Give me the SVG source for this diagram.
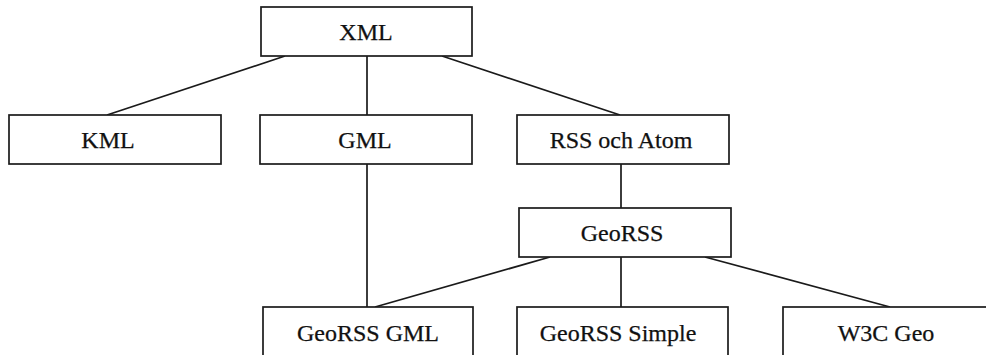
<svg xmlns="http://www.w3.org/2000/svg" width="986" height="355" viewBox="0 0 986 355">
  <style>
    .box { fill: #ffffff; stroke: #1a1a1a; stroke-width: 1.7; }
    .lbl { font-family: "Liberation Serif", "Times New Roman", serif; font-size: 24px; fill: #111111; stroke: #111111; stroke-width: 0.25; text-anchor: middle; }
    .link { stroke: #1a1a1a; stroke-width: 1.7; fill: none; }
  </style>
  <rect width="986" height="355" fill="#ffffff"/>

  <g id="connectors">
    <line class="link" x1="285" y1="56" x2="107" y2="115"/>
    <line class="link" x1="367" y1="56" x2="367" y2="115"/>
    <line class="link" x1="442" y1="56" x2="620" y2="115"/>
    <line class="link" x1="367" y1="164" x2="367" y2="307"/>
    <line class="link" x1="621" y1="164" x2="621" y2="208"/>
    <line class="link" x1="550" y1="257" x2="375" y2="307"/>
    <line class="link" x1="621" y1="257" x2="621" y2="307"/>
    <line class="link" x1="705" y1="257" x2="890" y2="307"/>
  </g>

  <g id="xml">
    <rect class="box" x="261" y="7" width="211" height="49"/>
    <text class="lbl" x="366" y="40">XML</text>
  </g>
  <g id="kml">
    <rect class="box" x="9" y="115" width="212" height="49"/>
    <text class="lbl" x="108" y="148">KML</text>
  </g>
  <g id="gml">
    <rect class="box" x="260" y="115" width="212" height="49"/>
    <text class="lbl" x="365" y="148">GML</text>
  </g>
  <g id="rss-atom">
    <rect class="box" x="517" y="115" width="212" height="49"/>
    <text class="lbl" x="621" y="148">RSS och Atom</text>
  </g>
  <g id="georss">
    <rect class="box" x="519" y="208" width="212" height="49"/>
    <text class="lbl" x="622" y="241">GeoRSS</text>
  </g>
  <g id="georss-gml">
    <rect class="box" x="263" y="307" width="210" height="60"/>
    <text class="lbl" x="368" y="341">GeoRSS GML</text>
  </g>
  <g id="georss-simple">
    <rect class="box" x="517" y="307" width="211" height="60"/>
    <text class="lbl" x="618" y="341">GeoRSS Simple</text>
  </g>
  <g id="w3c-geo">
    <rect class="box" x="783" y="307" width="220" height="60"/>
    <text class="lbl" x="886" y="341">W3C Geo</text>
  </g>
</svg>
